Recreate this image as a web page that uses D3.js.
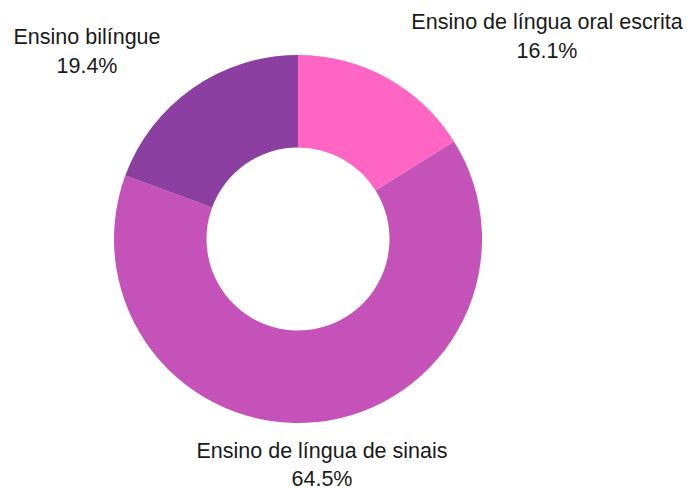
<!DOCTYPE html>
<html><head><meta charset="utf-8">
<script src="https://cdn.jsdelivr.net/npm/d3@7"></script>
<style>html,body{margin:0;padding:0;background:#fff;}</style>
</head><body>
<svg id="chart" width="687" height="489"></svg>
<script>
const categories = ["Ensino de língua oral escrita", "Ensino de língua de sinais", "Ensino bilíngue"];
const values = [16.1, 64.5, 19.4];
const valueLabels = ["16.1%", "64.5%", "19.4%"];
const colors = ["#FF66C4", "#C452B8", "#8B40A1"];

const svg = d3.select("#chart");
const cx = 298, cy = 239, rOuter = 184, rInner = 91.5;
const data = categories.map((c, i) => ({cat: c, value: values[i], label: valueLabels[i], color: colors[i]}));
const pie = d3.pie().value(d => d.value).sort(null);
const arc = d3.arc().innerRadius(rInner).outerRadius(rOuter);
const g = svg.append("g").attr("transform", `translate(${cx},${cy})`);
g.selectAll("path").data(pie(data)).enter().append("path")
  .attr("d", arc).attr("fill", d => d.data.color);

const labelPos = [
  {x: 547, y1: 29, y2: 58},
  {x: 322, y1: 458, y2: 486},
  {x: 87, y1: 44, y2: 73}
];
data.forEach((d, i) => {
  const p = labelPos[i];
  const t = svg.append("text").attr("text-anchor", "middle")
    .attr("font-family", "Liberation Sans, Arial, sans-serif").attr("font-size", 21.5).attr("fill", "#1a1a1a");
  t.append("tspan").attr("x", p.x).attr("y", p.y1).text(d.cat);
  t.append("tspan").attr("x", p.x).attr("y", p.y2).text(d.label);
});
</script>
</body></html>
